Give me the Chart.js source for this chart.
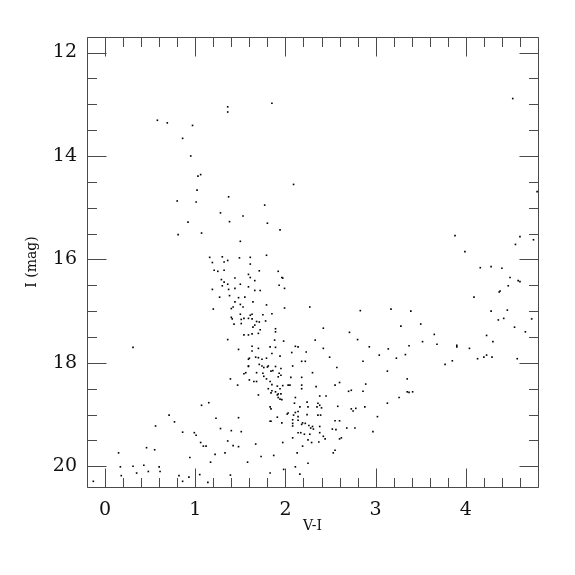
<!DOCTYPE html>
<html>
<head>
<meta charset="utf-8">
<script src="https://cdn.jsdelivr.net/npm/chart.js@4.4.0/dist/chart.umd.min.js"></script>
<style>
  html, body { margin: 0; padding: 0; background: #fff; }
  #wrap { width: 575px; height: 575px; }
</style>
</head>
<body>
<div id="wrap"><canvas id="cmd"></canvas></div>
<script>
// V-I colour and I magnitude of each star
const vi = [
  4.52, 1.85, 1.36, 1.36, 0.58, 0.69, 0.97, 0.86, 0.95, 1.06,
  1.03, 2.09, 1.02, 4.79, 1.37, 0.80, 1.01, 1.77, 1.28, 1.53,
  0.92, 1.38, 1.80, 1.94, 0.81, 1.07, 3.88, 4.60, 4.55, 4.75,
  1.50, 3.99, 1.79, 1.16, 1.30, 1.49, 1.61, 1.36, 1.19, 1.32,
  1.61, 4.16, 4.28, 4.40, 1.21, 1.25, 1.32, 1.71, 1.92, 1.96,
  1.97, 1.44, 1.59, 1.61, 1.66, 1.29, 1.32, 1.93, 1.99, 1.36,
  1.50, 1.30, 1.37, 1.19, 1.44, 1.59, 1.66, 1.72, 4.49, 4.58,
  4.60, 4.47, 4.37, 4.38, 4.09, 1.27, 1.48, 1.55, 1.38, 1.64,
  1.44, 1.79, 1.50, 1.53, 1.42, 1.20, 1.40, 1.99, 2.27, 2.83,
  3.17, 3.39, 4.28, 4.46, 1.50, 1.63, 1.75, 1.85, 1.61, 1.40,
  1.41, 1.51, 1.54, 1.59, 1.63, 1.68, 1.78, 1.71, 4.36, 4.42,
  4.73, 1.43, 1.51, 1.64, 1.66, 1.72, 1.89, 1.89, 2.42, 3.50,
  3.28, 4.54, 4.66, 1.54, 1.59, 1.63, 1.70, 2.71, 2.80, 3.65,
  3.68, 4.23, 1.36, 1.88, 1.98, 2.33, 1.48, 1.63, 1.63, 1.70,
  1.83, 1.89, 2.11, 2.14, 2.23, 2.42, 2.93, 3.14, 3.37, 3.52,
  3.90, 4.04, 4.30, 3.90, 0.31, 1.60, 1.59, 1.67, 1.70, 1.74,
  1.79, 1.85, 1.94, 2.07, 2.18, 2.22, 2.49, 3.04, 3.23, 3.33,
  4.13, 4.23, 4.20, 4.29, 4.57, 1.59, 1.59, 1.71, 1.74, 1.76,
  1.80, 1.81, 1.89, 1.95, 2.08, 2.57, 2.86, 3.85, 3.77, 1.54,
  1.56, 1.68, 1.75, 1.84, 1.86, 1.93, 2.30, 3.13, 1.39, 1.60,
  1.65, 1.76, 1.79, 1.83, 1.92, 1.95, 2.06, 2.18, 3.35, 1.47,
  1.68, 1.85, 1.91, 1.97, 2.03, 2.05, 2.18, 2.34, 2.60, 2.55,
  1.81, 1.85, 1.89, 1.94, 1.92, 1.95, 1.84, 2.18, 2.70, 2.73,
  2.86, 2.89, 3.35, 3.41, 3.37, 1.70, 1.91, 1.96, 1.92, 1.94,
  2.11, 2.24, 2.38, 2.45, 2.36, 2.38, 3.26, 1.07, 1.15, 1.83,
  1.84, 2.10, 2.25, 2.35, 2.40, 2.58, 3.13, 2.88, 2.02, 2.03,
  2.14, 2.16, 2.11, 2.09, 2.14, 2.24, 2.36, 2.39, 2.73, 2.78,
  3.02, 2.75, 0.71, 0.77, 1.23, 1.48, 1.83, 1.84, 1.91, 1.96,
  2.08, 2.08, 2.14, 2.19, 2.26, 2.38, 2.55, 2.60, 0.56, 1.28,
  2.08, 2.18, 2.22, 2.28, 2.31, 2.30, 2.52, 2.56, 2.68, 2.77,
  2.97, 0.86, 0.99, 1.01, 1.40, 1.51, 2.14, 2.17, 2.21, 2.27,
  2.38, 2.42, 2.44, 2.60, 2.62, 1.06, 1.09, 1.12, 1.36, 1.42,
  1.48, 1.67, 1.97, 2.08, 2.25, 2.29, 2.37, 2.19, 0.15, 0.46,
  0.55, 1.22, 1.33, 1.73, 1.87, 2.13, 2.53, 2.55, 0.94, 0.31,
  0.17, 0.43, 0.60, 1.58, 1.17, 2.11, 1.98, 2.25, -0.13, 0.18,
  0.35, 0.48, 0.61, 0.82, 0.86, 0.93, 1.05, 1.14, 1.39, 1.83,
  2.16
];
const imag = [
  12.89, 12.98, 13.05, 13.15, 13.31, 13.36, 13.41, 13.66, 14.00, 14.36,
  14.39, 14.55, 14.66, 14.69, 14.79, 14.87, 14.89, 14.95, 15.10, 15.16,
  15.28, 15.27, 15.30, 15.43, 15.52, 15.49, 15.54, 15.56, 15.71, 15.62,
  15.65, 15.85, 15.92, 15.96, 15.95, 15.97, 15.96, 16.02, 16.06, 16.05,
  16.09, 16.16, 16.14, 16.17, 16.21, 16.23, 16.21, 16.22, 16.23, 16.35,
  16.36, 16.36, 16.29, 16.35, 16.41, 16.39, 16.44, 16.50, 16.56, 16.48,
  16.48, 16.51, 16.58, 16.58, 16.56, 16.53, 16.60, 16.60, 16.35, 16.41,
  16.43, 16.51, 16.63, 16.61, 16.73, 16.73, 16.74, 16.73, 16.70, 16.82,
  16.82, 16.88, 16.87, 16.92, 16.92, 16.96, 16.95, 16.94, 16.92, 16.99,
  16.96, 17.00, 17.00, 16.98, 17.06, 17.06, 17.07, 17.05, 17.08, 17.12,
  17.15, 17.16, 17.14, 17.14, 17.15, 17.20, 17.19, 17.21, 17.17, 17.14,
  17.15, 17.25, 17.24, 17.31, 17.27, 17.36, 17.34, 17.40, 17.33, 17.25,
  17.29, 17.31, 17.40, 17.46, 17.46, 17.44, 17.43, 17.41, 17.55, 17.45,
  17.64, 17.47, 17.55, 17.56, 17.58, 17.56, 17.74, 17.68, 17.77, 17.72,
  17.69, 17.70, 17.68, 17.69, 17.79, 17.72, 17.69, 17.73, 17.67, 17.59,
  17.69, 17.72, 17.59, 17.66, 17.70, 17.91, 17.93, 17.89, 17.90, 17.93,
  17.91, 17.82, 17.87, 17.80, 17.97, 17.97, 17.89, 17.85, 17.91, 17.84,
  17.92, 17.85, 17.89, 17.89, 17.92, 18.06, 18.07, 18.03, 18.06, 18.09,
  18.08, 18.06, 18.07, 18.11, 18.06, 18.09, 17.97, 17.96, 18.03, 18.21,
  18.19, 18.19, 18.20, 18.16, 18.15, 18.20, 18.19, 18.16, 18.31, 18.33,
  18.36, 18.26, 18.31, 18.36, 18.27, 18.24, 18.28, 18.28, 18.31, 18.43,
  18.36, 18.42, 18.45, 18.44, 18.43, 18.43, 18.43, 18.46, 18.38, 18.43,
  18.50, 18.54, 18.56, 18.50, 18.60, 18.60, 18.58, 18.50, 18.55, 18.53,
  18.55, 18.41, 18.56, 18.56, 18.57, 18.62, 18.62, 18.71, 18.67, 18.70,
  18.67, 18.76, 18.64, 18.64, 18.78, 18.82, 18.67, 18.82, 18.77, 18.85,
  18.89, 18.78, 18.85, 18.85, 18.87, 18.84, 18.78, 18.85, 18.99, 18.97,
  18.94, 18.85, 18.96, 19.01, 19.04, 19.00, 19.01, 19.01, 18.89, 18.88,
  19.04, 18.93, 19.01, 19.14, 19.07, 19.06, 19.13, 19.13, 19.05, 19.16,
  19.10, 19.17, 19.11, 19.16, 19.21, 19.23, 19.12, 19.12, 19.22, 19.27,
  19.22, 19.19, 19.17, 19.26, 19.28, 19.23, 19.28, 19.29, 19.26, 19.26,
  19.33, 19.34, 19.35, 19.40, 19.31, 19.33, 19.35, 19.35, 19.38, 19.38,
  19.35, 19.42, 19.47, 19.47, 19.45, 19.54, 19.61, 19.61, 19.51, 19.60,
  19.62, 19.57, 19.54, 19.45, 19.49, 19.54, 19.53, 19.61, 19.74, 19.64,
  19.68, 19.77, 19.74, 19.81, 19.79, 19.74, 19.74, 19.69, 19.83, 20.00,
  20.01, 19.98, 20.01, 19.92, 19.92, 20.01, 20.06, 19.94, 20.29, 20.18,
  20.13, 20.10, 20.10, 20.18, 20.29, 20.21, 20.16, 20.31, 20.17, 20.13,
  20.15
];

const xRange = [-0.2, 4.8];
const yRange = [11.7, 20.4];
const xMajorTicks = [0, 1, 2, 3, 4];
const yMajorTicks = [12, 14, 16, 18, 20];
const xMinorStep = 0.2;
const yMinorStep = 0.5;

const points = vi.map((v, i) => ({ x: v, y: imag[i] }));

// frame with inward ticks on all four sides
const frameTicks = {
  id: 'frameTicks',
  afterDraw(chart) {
    const { ctx, chartArea: a, scales } = chart;
    const xs = scales.x, ys = scales.y;
    const L = Math.round(a.left) + 0.5, R = Math.round(a.right) + 0.5;
    const T = Math.round(a.top) + 0.5, B = Math.round(a.bottom) + 0.5;
    ctx.save();
    ctx.strokeStyle = '#4a4a4a';
    ctx.lineWidth = 1;
    ctx.beginPath();
    ctx.rect(L, T, R - L, B - T);

    for (let v = xRange[0]; v <= xRange[1] + 1e-6; v += xMinorStep) {
      const val = Math.round(v * 10) / 10;
      const major = xMajorTicks.some(m => Math.abs(m - val) < 1e-6);
      const len = major ? 19 : 9.5;
      const px = Math.round(xs.getPixelForValue(val)) + 0.5;
      ctx.moveTo(px, B); ctx.lineTo(px, B - len);
      ctx.moveTo(px, T); ctx.lineTo(px, T + len);
    }
    for (let v = 12; v <= yRange[1] + 1e-6; v += yMinorStep) {
      const major = yMajorTicks.some(m => Math.abs(m - v) < 1e-6);
      const len = major ? 19 : 9.5;
      const py = Math.round(ys.getPixelForValue(v)) + 0.5;
      ctx.moveTo(L, py); ctx.lineTo(L + len, py);
      ctx.moveTo(R, py); ctx.lineTo(R - len, py);
    }
    ctx.stroke();
    ctx.restore();
  }
};

const tickFont = { family: 'DejaVu Serif', size: 19 };
const titleFont = { family: 'DejaVu Serif', size: 14 };

new Chart(document.getElementById('cmd').getContext('2d'), {
  type: 'scatter',
  data: {
    datasets: [{
      data: points,
      pointRadius: 1.15,
      pointHoverRadius: 1.15,
      pointStyle: 'rect',
      backgroundColor: '#000',
      borderWidth: 0
    }]
  },
  options: {
    responsive: true,
    maintainAspectRatio: false,
    animation: false,
    events: [],
    layout: { padding: { top: 37, right: 37, left: 0, bottom: 0 } },
    plugins: {
      legend: { display: false },
      tooltip: { enabled: false }
    },
    scales: {
      x: {
        type: 'linear',
        min: xRange[0],
        max: xRange[1],
        grid: { display: false, drawTicks: false },
        border: { display: false },
        afterBuildTicks: s => { s.ticks = xMajorTicks.map(v => ({ value: v })); },
        afterFit: s => { s.height = 88; },
        ticks: {
          font: tickFont,
          color: '#111',
          padding: 12,
          maxRotation: 0,
          callback: v => String(v)
        },
        title: {
          display: true,
          text: 'V-I',
          font: titleFont,
          color: '#111',
          padding: { top: 0, bottom: 40 }
        }
      },
      y: {
        type: 'linear',
        reverse: true,
        min: yRange[0],
        max: yRange[1],
        grid: { display: false, drawTicks: false },
        border: { display: false },
        afterBuildTicks: s => { s.ticks = yMajorTicks.map(v => ({ value: v })); },
        afterFit: s => { s.width = 87; },
        ticks: {
          font: tickFont,
          color: '#111',
          padding: 10,
          callback: v => String(v)
        },
        title: {
          display: true,
          text: 'I (mag)',
          font: titleFont,
          color: '#111',
          padding: { top: 24, bottom: 0 }
        }
      }
    }
  },
  plugins: [frameTicks]
});
</script>
</body>
</html>
